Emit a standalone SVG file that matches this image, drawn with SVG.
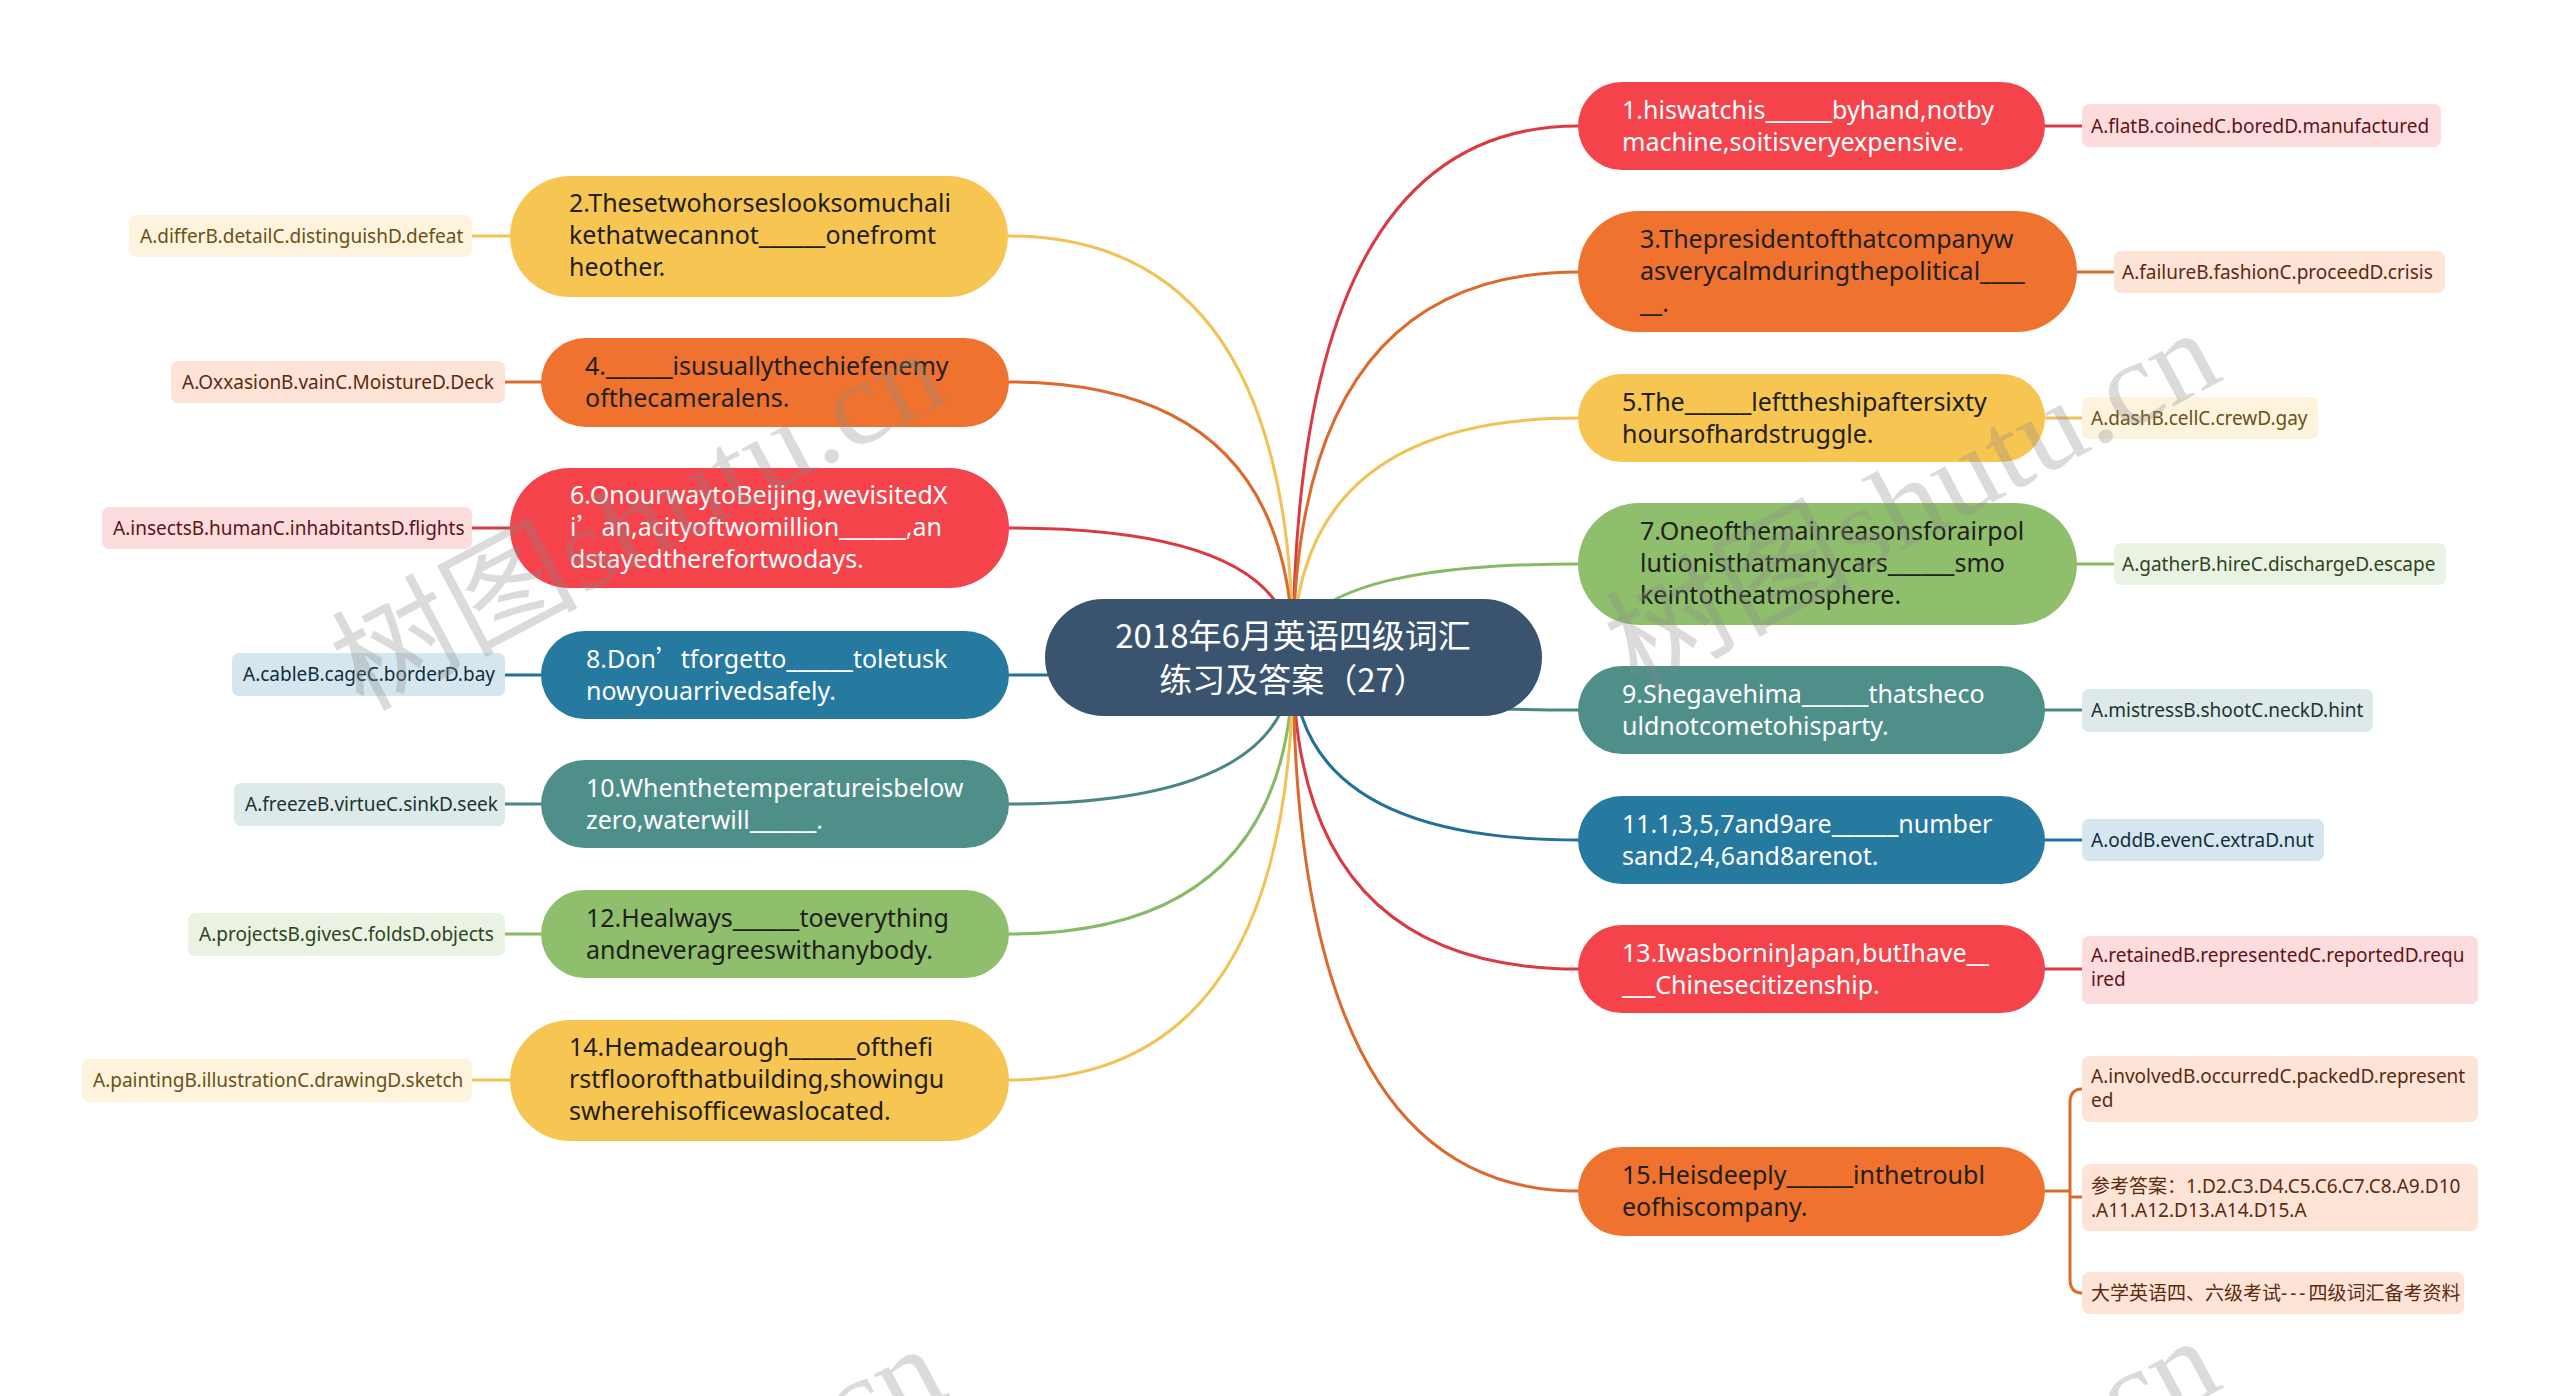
<svg xmlns="http://www.w3.org/2000/svg" width="2560" height="1396" viewBox="0 0 2560 1396">
<style>
.conn{fill:none;stroke-width:3;stroke-linecap:round}
.t{font-family:"Noto Sans","Noto Sans CJK SC",sans-serif;font-size:25px}
.a{font-family:"Noto Sans","Noto Sans CJK SC",sans-serif;font-size:19px}
.cjk{font-family:"Noto Sans CJK SC",sans-serif}
.w{fill:#ffffff}
.d{fill:#22201d}
.red{fill:#F4434B}.org{fill:#EF732E}.yel{fill:#F7C552}.grn{fill:#8FBE6C}.tea{fill:#4F8F8A}.blu{fill:#26799F}
.sred{stroke:#DA3B42}.sorg{stroke:#DC6A2C}.syel{stroke:#F1C255}.sgrn{stroke:#88B967}.stea{stroke:#4A8782}.sblu{stroke:#23709A}
.bred{fill:#FDDCDD}.borg{fill:#FDE4D6}.byel{fill:#FEF3DC}.bgrn{fill:#E9F2E3}.btea{fill:#DDEAE9}.bblu{fill:#D6E6EE}
.tred{fill:#5E1417}.torg{fill:#5B2A10}.tyel{fill:#6A5118}.tgrn{fill:#2D4520}.ttea{fill:#1D3433}.tblu{fill:#0F2E3D}
.wm{font-family:"Liberation Serif","Noto Sans CJK SC",serif;font-size:118px;fill:#8a8a8a;opacity:0.3}
</style>
<rect x="0" y="0" width="2560" height="1396" fill="#ffffff"/>
<g id="connectors">
<path class="conn sred" d="M1293,658 Q1293,126 1578,126"/>
<path class="conn sorg" d="M1293,658 Q1293,272 1578,272"/>
<path class="conn syel" d="M1293,658 Q1293,418 1578,418"/>
<path class="conn sgrn" d="M1293,658 Q1293,564 1578,564"/>
<path class="conn stea" d="M1293,658 Q1293,710 1578,710"/>
<path class="conn sblu" d="M1293,658 Q1293,840 1578,840"/>
<path class="conn sred" d="M1293,658 Q1293,969 1578,969"/>
<path class="conn sorg" d="M1293,658 Q1293,1191 1578,1191"/>
<path class="conn syel" d="M1293,658 Q1293,236 1008,236"/>
<path class="conn sorg" d="M1293,658 Q1293,382 1009,382"/>
<path class="conn sred" d="M1293,658 Q1293,528 1009,528"/>
<path class="conn sblu" d="M1293,658 Q1293,675 1009,675"/>
<path class="conn stea" d="M1293,658 Q1293,804 1009,804"/>
<path class="conn sgrn" d="M1293,658 Q1293,934 1009,934"/>
<path class="conn syel" d="M1293,658 Q1293,1080 1009,1080"/>
<path class="conn sred" d="M2045,126 H2082"/>
<path class="conn sorg" d="M2077,272 H2114"/>
<path class="conn syel" d="M2045,418 H2082"/>
<path class="conn sgrn" d="M2077,564 H2114"/>
<path class="conn stea" d="M2045,710 H2082"/>
<path class="conn sblu" d="M2045,840 H2082"/>
<path class="conn sred" d="M2045,969 H2082"/>
<path class="conn sorg" d="M2045,1191 H2070 M2082,1089 Q2070,1089 2070,1103 V1279 Q2070,1293 2082,1293 M2070,1197 H2082"/>
<path class="conn syel" d="M510,236 H472"/>
<path class="conn sorg" d="M541,382 H505"/>
<path class="conn sred" d="M510,528 H472"/>
<path class="conn sblu" d="M541,675 H505"/>
<path class="conn stea" d="M541,804 H505"/>
<path class="conn sgrn" d="M541,934 H505"/>
<path class="conn syel" d="M510,1080 H472"/>
</g>
<g id="center">
<rect x="1045" y="599" width="497" height="117" rx="58.5" fill="#3A5470"/>
<text class="cjk w" font-size="33" text-anchor="middle" x="1293" y="648">2018年6月英语四级词汇</text>
<text class="cjk w" font-size="33" text-anchor="middle" x="1293" y="692">练习及答案（27）</text>
</g>
<g id="n1"><rect class="red" x="1578" y="82" width="467" height="88" rx="44"/>
<text class="t w" x="1622" y="119">1.hiswatchis______byhand,notby</text>
<text class="t w" x="1622" y="151">machine,soitisveryexpensive.</text></g>
<g id="a1"><rect class="bred" x="2082" y="104" width="359" height="43" rx="7"/>
<text class="a tred" x="2091" y="133">A.flatB.coinedC.boredD.manufactured</text></g>
<g id="n3"><rect class="org" x="1578" y="211" width="499" height="121" rx="60.5"/>
<text class="t d" x="1640" y="248">3.Thepresidentofthatcompanyw</text>
<text class="t d" x="1640" y="280">asverycalmduringthepolitical____</text>
<text class="t d" x="1640" y="312">__.</text></g>
<g id="a3"><rect class="borg" x="2114" y="251" width="331" height="42" rx="7"/>
<text class="a torg" x="2122" y="279">A.failureB.fashionC.proceedD.crisis</text></g>
<g id="n5"><rect class="yel" x="1578" y="374" width="467" height="88" rx="44"/>
<text class="t d" x="1622" y="411">5.The______lefttheshipaftersixty</text>
<text class="t d" x="1622" y="443">hoursofhardstruggle.</text></g>
<g id="a5"><rect class="byel" x="2082" y="397" width="236" height="42" rx="7"/>
<text class="a tyel" x="2091" y="425">A.dashB.cellC.crewD.gay</text></g>
<g id="n7"><rect class="grn" x="1578" y="503" width="499" height="122" rx="61"/>
<text class="t d" x="1640" y="540">7.Oneofthemainreasonsforairpol</text>
<text class="t d" x="1640" y="572">lutionisthatmanycars______smo</text>
<text class="t d" x="1640" y="604">keintotheatmosphere.</text></g>
<g id="a7"><rect class="bgrn" x="2114" y="543" width="332" height="42" rx="7"/>
<text class="a tgrn" x="2122" y="571">A.gatherB.hireC.dischargeD.escape</text></g>
<g id="n9"><rect class="tea" x="1578" y="666" width="467" height="88" rx="44"/>
<text class="t w" x="1622" y="703">9.Shegavehima______thatsheco</text>
<text class="t w" x="1622" y="735">uldnotcometohisparty.</text></g>
<g id="a9"><rect class="btea" x="2082" y="689" width="291" height="43" rx="7"/>
<text class="a ttea" x="2091" y="717">A.mistressB.shootC.neckD.hint</text></g>
<g id="n11"><rect class="blu" x="1578" y="796" width="467" height="88" rx="44"/>
<text class="t w" x="1622" y="833">11.1,3,5,7and9are______number</text>
<text class="t w" x="1622" y="865">sand2,4,6and8arenot.</text></g>
<g id="a11"><rect class="bblu" x="2082" y="819" width="242" height="42" rx="7"/>
<text class="a tblu" x="2091" y="847">A.oddB.evenC.extraD.nut</text></g>
<g id="n13"><rect class="red" x="1578" y="925" width="467" height="88" rx="44"/>
<text class="t w" x="1622" y="962">13.IwasborninJapan,butIhave__</text>
<text class="t w" x="1622" y="994">___Chinesecitizenship.</text></g>
<g id="a13"><rect class="bred" x="2082" y="936" width="396" height="68" rx="7"/>
<text class="a tred" x="2091" y="962">A.retainedB.representedC.reportedD.requ</text>
<text class="a tred" x="2091" y="986">ired</text></g>
<g id="n15"><rect class="org" x="1578" y="1147" width="467" height="89" rx="44.5"/>
<text class="t d" x="1622" y="1184">15.Heisdeeply______inthetroubl</text>
<text class="t d" x="1622" y="1216">eofhiscompany.</text></g>
<g id="a15a"><rect class="borg" x="2082" y="1056" width="396" height="66" rx="7"/>
<text class="a torg" x="2091" y="1083">A.involvedB.occurredC.packedD.represent</text>
<text class="a torg" x="2091" y="1107">ed</text></g>
<g id="a15b"><rect class="borg" x="2082" y="1164" width="396" height="67" rx="7"/>
<text class="a torg" x="2091" y="1193">参考答案：1.D2.C3.D4.C5.C6.C7.C8.A9.D10</text>
<text class="a torg" x="2091" y="1217">.A11.A12.D13.A14.D15.A</text></g>
<g id="a15c"><rect class="borg" x="2082" y="1272" width="382" height="42" rx="7"/>
<text class="a torg" x="2091" y="1300">大学英语四、六级考试<tspan letter-spacing="3">---</tspan>四级词汇备考资料</text></g>
<g id="n2"><rect class="yel" x="510" y="176" width="498" height="121" rx="60.5"/>
<text class="t d" x="569" y="212">2.Thesetwohorseslooksomuchali</text>
<text class="t d" x="569" y="244">kethatwecannot______onefromt</text>
<text class="t d" x="569" y="276">heother.</text></g>
<g id="a2"><rect class="byel" x="129" y="215" width="343" height="42" rx="7"/>
<text class="a tyel" x="140" y="243">A.differB.detailC.distinguishD.defeat</text></g>
<g id="n4"><rect class="org" x="541" y="338" width="468" height="89" rx="44.5"/>
<text class="t d" x="585" y="375">4.______isusuallythechiefenemy</text>
<text class="t d" x="585" y="407">ofthecameralens.</text></g>
<g id="a4"><rect class="borg" x="171" y="361" width="334" height="42" rx="7"/>
<text class="a torg" x="182" y="389">A.OxxasionB.vainC.MoistureD.Deck</text></g>
<g id="n6"><rect class="red" x="510" y="468" width="499" height="120" rx="60"/>
<text class="t w" x="570" y="504">6.OnourwaytoBeijing,wevisitedX</text>
<text class="t w" x="570" y="536">i<tspan class="cjk">’</tspan>an,acityoftwomillion______,an</text>
<text class="t w" x="570" y="568">dstayedtherefortwodays.</text></g>
<g id="a6"><rect class="bred" x="102" y="507" width="370" height="42" rx="7"/>
<text class="a tred" x="113" y="535">A.insectsB.humanC.inhabitantsD.flights</text></g>
<g id="n8"><rect class="blu" x="541" y="631" width="468" height="88" rx="44"/>
<text class="t w" x="586" y="668">8.Don<tspan class="cjk">’</tspan>tforgetto______toletusk</text>
<text class="t w" x="586" y="700">nowyouarrivedsafely.</text></g>
<g id="a8"><rect class="bblu" x="232" y="653" width="273" height="43" rx="7"/>
<text class="a tblu" x="243" y="681">A.cableB.cageC.borderD.bay</text></g>
<g id="n10"><rect class="tea" x="541" y="760" width="468" height="88" rx="44"/>
<text class="t w" x="586" y="797">10.Whenthetemperatureisbelow</text>
<text class="t w" x="586" y="829">zero,waterwill______.</text></g>
<g id="a10"><rect class="btea" x="234" y="783" width="271" height="43" rx="7"/>
<text class="a ttea" x="245" y="811">A.freezeB.virtueC.sinkD.seek</text></g>
<g id="n12"><rect class="grn" x="541" y="890" width="468" height="88" rx="44"/>
<text class="t d" x="586" y="927">12.Healways______toeverything</text>
<text class="t d" x="586" y="959">andneveragreeswithanybody.</text></g>
<g id="a12"><rect class="bgrn" x="188" y="913" width="317" height="43" rx="7"/>
<text class="a tgrn" x="199" y="941">A.projectsB.givesC.foldsD.objects</text></g>
<g id="n14"><rect class="yel" x="510" y="1020" width="499" height="121" rx="60.5"/>
<text class="t d" x="569" y="1056">14.Hemadearough______ofthefi</text>
<text class="t d" x="569" y="1088">rstfloorofthatbuilding,showingu</text>
<text class="t d" x="569" y="1120">swherehisofficewaslocated.</text></g>
<g id="a14"><rect class="byel" x="82" y="1059" width="390" height="43" rx="7"/>
<text class="a tyel" x="93" y="1087">A.paintingB.illustrationC.drawingD.sketch</text></g>
<g id="watermarks">
<text class="wm" transform="translate(362,712) rotate(-28)" textLength="668" lengthAdjust="spacingAndGlyphs">树图shutu.cn</text>
<text class="wm" transform="translate(1636,692) rotate(-28)" textLength="668" lengthAdjust="spacingAndGlyphs">树图shutu.cn</text>
<text class="wm" transform="translate(362,1708) rotate(-28)" textLength="668" lengthAdjust="spacingAndGlyphs">树图shutu.cn</text>
<text class="wm" transform="translate(1636,1700) rotate(-28)" textLength="668" lengthAdjust="spacingAndGlyphs">树图shutu.cn</text>
</g>
</svg>
